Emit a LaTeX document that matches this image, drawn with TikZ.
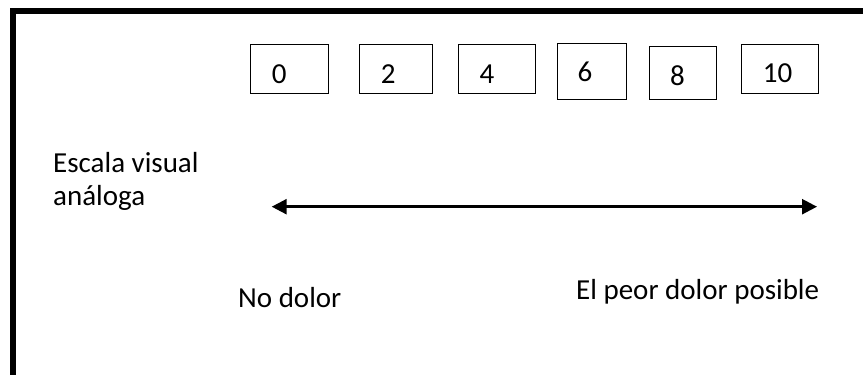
\documentclass[tikz,border=0pt]{standalone}
\usepackage{fontspec}
\setmainfont{Carlito}
\usetikzlibrary{arrows.meta}
\begin{document}
\begin{tikzpicture}[x=1pt,y=-1pt,
  numbox/.style={draw=black, line width=0.9pt, inner sep=0pt, outer sep=0pt},
  digit/.style={anchor=base west, inner sep=0pt, font=\fontsize{29}{35}\selectfont},
  txt/.style={anchor=base west, inner sep=0pt, font=\fontsize{29}{35}\selectfont},
  frame/.style={line width=5.5pt, line join=miter},
  scale arrow/.style={line width=2.5pt, {Triangle[length=15pt,width=15pt]}-{Triangle[length=15pt,width=15pt]}}
]
\useasboundingbox (0,0) rectangle (863,375);

% outer frame (open to the right and bottom)
\draw[frame] (13,375) -- (13,10.8) -- (863,10.8);

% number boxes
\node[numbox, minimum width=78pt, minimum height=49pt] (b0)  at (289,68.5)   {};
\node[numbox, minimum width=73pt, minimum height=49pt] (b2)  at (395.5,68.5) {};
\node[numbox, minimum width=77pt, minimum height=49pt] (b4)  at (496.5,68.5) {};
\node[numbox, minimum width=69pt, minimum height=56pt] (b6)  at (591.5,71)   {};
\node[numbox, minimum width=67pt, minimum height=53pt] (b8)  at (682.5,72.5) {};
\node[numbox, minimum width=77pt, minimum height=49pt] (b10) at (779.5,68.5) {};

% numbers inside the boxes
\node[digit] (n0)  at (271.7,83.3) {0};
\node[digit] (n2)  at (380.7,83.3) {2};
\node[digit] (n4)  at (479.3,83.3) {4};
\node[digit] (n6)  at (577.3,81.7) {6};
\node[digit] (n8)  at (670,85)     {8};
\node[digit] (n10) at (762.7,82.7) {10};

% title of the scale
\node[txt] (t1) at (53,172) {Escala visual};
\node[txt] (t2) at (53,205) {análoga};

% the scale line
\coordinate (aL) at (271.7,206.7);
\coordinate (aR) at (817,206.7);
\draw[scale arrow] (aL) -- (aR);

% end labels
\node[txt] (lo) at (238,307) {No dolor};
\node[txt] (hi) at (576,299) {El peor dolor posible};
\end{tikzpicture}
\end{document}
